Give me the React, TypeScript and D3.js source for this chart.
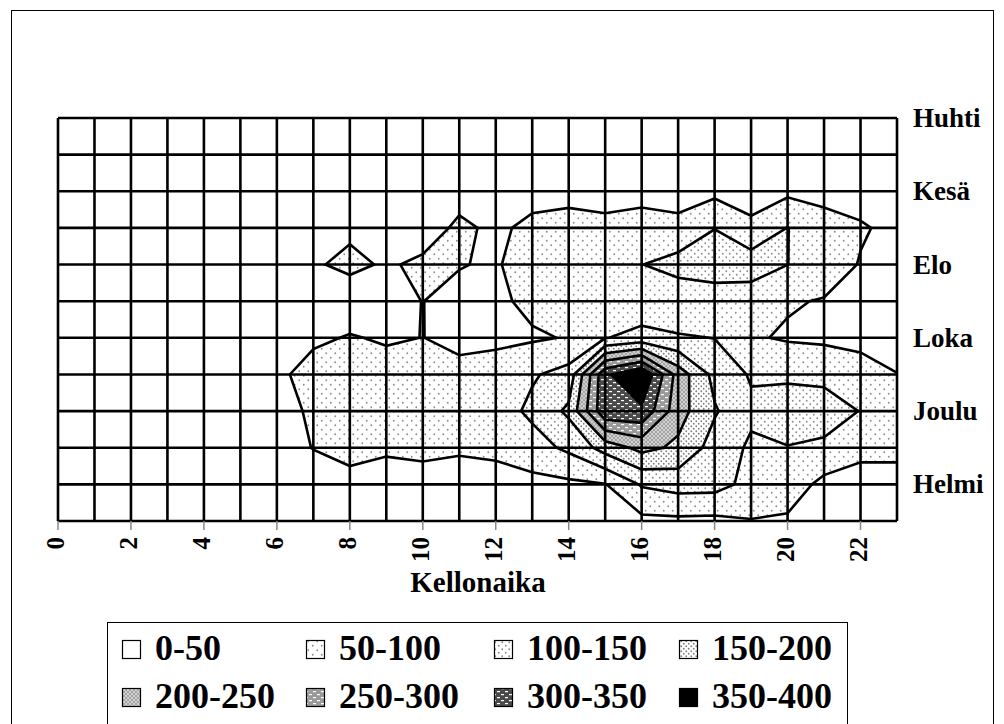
import { useEffect, useRef } from 'react';
import * as d3 from 'd3';

// hours of the day (columns) and months (rows, top to bottom)
const hours = [0, 1, 2, 3, 4, 5, 6, 7, 8, 9, 10, 11, 12, 13, 14, 15, 16, 17, 18, 19, 20, 21, 22, 23];
const months = ['Huhti', 'Touko', 'Kesä', 'Heinä', 'Elo', 'Syys', 'Loka', 'Marras', 'Joulu', 'Tammi', 'Helmi', 'Maalis'];
const monthLabels = ['Huhti', 'Kesä', 'Elo', 'Loka', 'Joulu', 'Helmi'];
const hourLabels = [0, 2, 4, 6, 8, 10, 12, 14, 16, 18, 20, 22];

// values per month, one per hour
const huhti = [12, 12, 12, 13, 13, 14, 15, 16, 18, 20, 22, 24, 26, 28, 30, 30, 30, 30, 30, 30, 30, 28, 26, 24];
const touko = [14, 14, 14, 15, 15, 16, 18, 20, 22, 25, 28, 30, 32, 34, 35, 36, 36, 36, 36, 35, 35, 33, 30, 26];
const kesa = [15, 15, 15, 16, 16, 17, 19, 22, 30, 28, 30, 35, 38, 35, 35, 35, 38, 38, 38, 30, 40, 35, 30, 26];
const heina = [16, 16, 16, 17, 17, 18, 22, 28, 42, 35, 30, 58, 42, 60, 68, 60, 65, 58, 99, 60, 101, 69, 55, 38];
const elo = [16, 16, 16, 17, 17, 20, 25, 45, 60, 45, 58, 52, 45, 75, 80, 85, 99, 121, 125, 127, 100.5, 77, 47, 35];
const syys = [16, 16, 16, 17, 18, 20, 26, 35, 25, 40, 50.5, 38, 40, 62, 65, 62, 70, 63, 75, 70, 54.5, 47, 35, 30];
const loka = [15, 16, 17, 18, 20, 24, 30, 42, 53, 45, 50.5, 40, 38, 44, 53, 98, 115, 105, 99, 55.5, 44.5, 40, 38, 30];
const marras = [15, 16, 17, 18, 22, 30, 40, 68, 70, 68, 72, 61, 75, 95, 118, 340, 400, 228, 135, 95, 95, 92, 68, 51];
const joulu = [15, 16, 17, 18, 22, 30, 38, 55, 70, 72, 75, 70, 77, 110, 160, 340, 340, 220, 155, 110, 115, 115, 99, 80];
const tammi = [15, 16, 17, 18, 22, 28, 35, 51, 62, 58, 62, 55, 62, 80, 110, 170, 215, 190, 130, 92, 99, 94, 70, 60];
const helmi = [14, 14, 15, 16, 18, 20, 25, 32, 38, 25, 30, 32, 28, 35, 40, 48, 105, 120, 118, 85, 80, 35, 20, 35];
const maalis = [14, 14, 15, 16, 18, 20, 22, 25, 28, 25, 25, 25, 25, 28, 30, 35, 38, 40, 38, 48, 42, 40, 30, 28];

const thresholds = [0, 50, 100, 150, 200, 250, 300, 350];
const bandLabels = ['0-50', '50-100', '100-150', '150-200', '200-250', '250-300', '300-350', '350-400'];

const FONT = "'Liberation Serif', 'Times New Roman', serif";

export default function App() {
  const svgRef = useRef<SVGSVGElement>(null);

  useEffect(() => {
    if (!svgRef.current) return;
    const svg = d3.select(svgRef.current);
    svg.selectAll('*').remove();

    const height = 724;
    const plot = { left: 58, right: 897, top: 118, bottom: 521 };

    const x = d3.scaleLinear().domain([0, hours.length - 1]).range([plot.left, plot.right]);
    const y = d3.scaleLinear().domain([0, months.length - 1]).range([plot.top, plot.bottom]);

    const defs = svg.append('defs');

    // fill patterns, one per band
    const dotPattern = (id: string, size: number, r: number, color: string, bg: string) => {
      const p = defs.append('pattern').attr('id', id)
        .attr('width', size).attr('height', size)
        .attr('patternUnits', 'userSpaceOnUse');
      p.append('rect').attr('width', size).attr('height', size).attr('fill', bg);
      p.append('circle').attr('cx', size / 4).attr('cy', size / 4).attr('r', r).attr('fill', color);
      p.append('circle').attr('cx', size * 3 / 4).attr('cy', size * 3 / 4).attr('r', r).attr('fill', color);
    };
    dotPattern('band1', 9, 0.9, '#8c8c8c', '#fff');
    dotPattern('band2', 7, 0.9, '#8c8c8c', '#fff');
    dotPattern('band3', 5, 0.9, '#808080', '#fff');

    const hatch = defs.append('pattern').attr('id', 'band4')
      .attr('width', 4).attr('height', 4).attr('patternUnits', 'userSpaceOnUse');
    hatch.append('rect').attr('width', 4).attr('height', 4).attr('fill', '#d0d0d0');
    hatch.append('path').attr('d', 'M0,0 L4,4 M4,0 L0,4').attr('stroke', '#9a9a9a').attr('stroke-width', 0.8);

    const dash = (id: string, bg: string) => {
      const p = defs.append('pattern').attr('id', id)
        .attr('width', 8).attr('height', 6).attr('patternUnits', 'userSpaceOnUse');
      p.append('rect').attr('width', 8).attr('height', 6).attr('fill', bg);
      p.append('rect').attr('x', 1).attr('y', 1).attr('width', 3).attr('height', 1.2).attr('fill', '#fff');
      p.append('rect').attr('x', 5).attr('y', 4).attr('width', 3).attr('height', 1.2).attr('fill', '#fff');
    };
    dash('band5', '#9a9a9a');
    dash('band6', '#4a4a4a');

    const fills = ['#fff', 'url(#band1)', 'url(#band2)', 'url(#band3)', 'url(#band4)', 'url(#band5)', 'url(#band6)', '#000'];

    defs.append('clipPath').attr('id', 'plot-clip')
      .append('rect')
      .attr('x', plot.left).attr('y', plot.top)
      .attr('width', plot.right - plot.left).attr('height', plot.bottom - plot.top);

    // chart area
    svg.append('rect')
      .attr('x', 11.5).attr('y', 10.5)
      .attr('width', 982).attr('height', height)
      .attr('fill', '#fff').attr('stroke', '#000').attr('stroke-width', 1);

    // contours
    const grid = [huhti, touko, kesa, heina, elo, syys, loka, marras, joulu, tammi, helmi, maalis];
    const values = grid.flat();
    const contours = d3.contours()
      .size([hours.length, months.length])
      .thresholds(thresholds.slice(1))(values);

    const proj = d3.geoTransform({
      point(px: number, py: number) {
        this.stream.point(x(px - 0.5), y(py - 0.5));
      }
    });
    const path = d3.geoPath(proj);

    const cg = svg.append('g').attr('clip-path', 'url(#plot-clip)');
    cg.append('rect')
      .attr('x', plot.left).attr('y', plot.top)
      .attr('width', plot.right - plot.left).attr('height', plot.bottom - plot.top)
      .attr('fill', '#fff');

    contours.forEach((c, i) => {
      cg.append('path')
        .attr('d', path(c as any))
        .attr('fill', fills[i + 1])
        .attr('stroke', '#000')
        .attr('stroke-width', 2.6)
        .attr('stroke-linejoin', 'miter');
    });

    // grid
    const gg = svg.append('g');
    hours.forEach((h) => {
      gg.append('line')
        .attr('x1', x(h)).attr('x2', x(h))
        .attr('y1', plot.top).attr('y2', plot.bottom)
        .attr('stroke', '#000').attr('stroke-width', 2.6);
    });
    months.forEach((_, i) => {
      gg.append('line')
        .attr('x1', plot.left).attr('x2', plot.right)
        .attr('y1', y(i)).attr('y2', y(i))
        .attr('stroke', '#000').attr('stroke-width', 2.6);
    });

    // x ticks and labels
    hourLabels.forEach((h) => {
      gg.append('line')
        .attr('x1', x(h)).attr('x2', x(h))
        .attr('y1', plot.bottom).attr('y2', plot.bottom + 9)
        .attr('stroke', '#888').attr('stroke-width', 1.5);
      svg.append('text')
        .attr('transform', `translate(${x(h) + 6},${plot.bottom + 16}) rotate(-90)`)
        .attr('text-anchor', 'end')
        .attr('font-family', FONT)
        .attr('font-weight', 'bold')
        .attr('font-size', 25)
        .text(h);
    });

    svg.append('text')
      .attr('x', 478).attr('y', 592)
      .attr('text-anchor', 'middle')
      .attr('font-family', FONT)
      .attr('font-weight', 'bold')
      .attr('font-size', 29)
      .text('Kellonaika');

    // month labels on the right
    monthLabels.forEach((m) => {
      svg.append('text')
        .attr('x', 913).attr('y', y(months.indexOf(m)) + 9)
        .attr('font-family', FONT)
        .attr('font-weight', 'bold')
        .attr('font-size', 27)
        .text(m);
    });

    // legend
    const lg = svg.append('g');
    lg.append('rect')
      .attr('x', 107.5).attr('y', 622.5)
      .attr('width', 740).attr('height', 120)
      .attr('fill', '#fff').attr('stroke', '#000').attr('stroke-width', 1);
    const colX = [122, 306, 494, 679];
    const rowY = [640, 688];
    bandLabels.forEach((lab, i) => {
      const cx = colX[i % 4];
      const cy = rowY[Math.floor(i / 4)];
      lg.append('rect')
        .attr('x', cx + 0.5).attr('y', cy + 0.5)
        .attr('width', 18).attr('height', 18)
        .attr('fill', fills[i])
        .attr('stroke', '#000').attr('stroke-width', 1.2);
      lg.append('text')
        .attr('x', cx + 33).attr('y', cy + 20)
        .attr('font-family', FONT)
        .attr('font-weight', 'bold')
        .attr('font-size', 36)
        .text(lab);
    });
  }, []);

  return (
    <svg ref={svgRef} width={1004} height={724}
      style={{ position: 'absolute', left: 0, top: 0, background: '#fff' }} />
  );
}
